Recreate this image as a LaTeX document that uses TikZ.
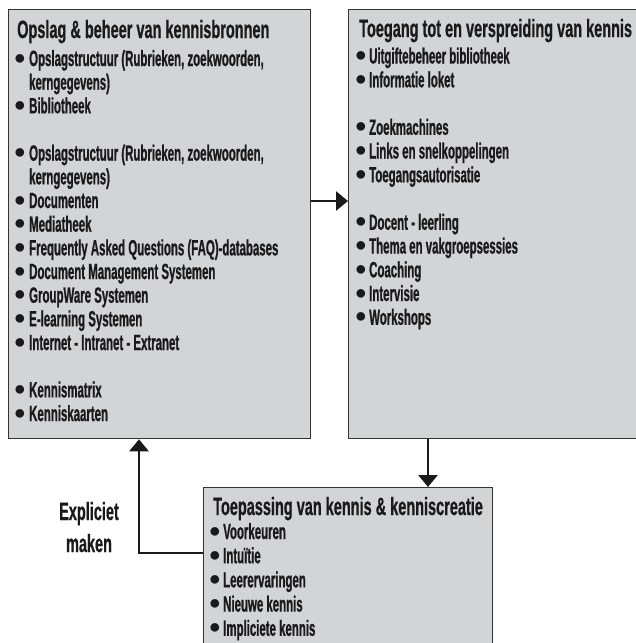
\documentclass[tikz,border=0pt]{standalone}
\usepackage{fontspec}
\setmainfont{Liberation Sans}
\newfontfamily\titlefont{Liberation Sans}[UprightFont=* Bold, FakeStretch=0.58, FakeBold=0.6]
\newfontfamily\itemfont{Liberation Sans}[UprightFont=* Bold, FakeStretch=0.52, FakeBold=0.8]
\newfontfamily\bulfont{Liberation Sans}
\usetikzlibrary{arrows.meta}
\definecolor{boxfill}{HTML}{D3D4D6}
\definecolor{boxline}{HTML}{333333}
\definecolor{ink}{HTML}{1A1A1A}
\tikzset{
  box/.style={draw=boxline, line width=1.3pt, fill=boxfill, anchor=north west, inner sep=0pt},
  ttl/.style={anchor=base west, inner sep=0pt, text=ink, font=\titlefont\fontsize{25}{25}\selectfont},
  lbl/.style={anchor=base, inner sep=0pt, text=ink, font=\titlefont\fontsize{25}{25}\selectfont},
  itm/.style={anchor=base west, inner sep=0pt, text=ink, font=\itemfont\fontsize{22}{22}\selectfont},
  bul/.style={anchor=base, inner sep=0pt, text=ink, font=\bulfont\fontsize{20}{20}\selectfont},
  arr/.style={line width=2.8pt, draw=ink, -{Triangle[length=12pt,width=19pt]}},
}
\begin{document}
\begin{tikzpicture}[x=1pt,y=-1pt]
\useasboundingbox (0,0) rectangle (636,643);
\clip (0,0) rectangle (636,643);
% boxes
\node[box, minimum width=302pt, minimum height=429pt] (L) at (8,9) {};
\node[box, minimum width=320pt, minimum height=429pt] (R) at (348,9) {};
\node[box, minimum width=289pt, minimum height=200pt] (B) at (203,487) {};
% titles
\node[ttl] (Lt) at (17,38) {Opslag \& beheer van kennisbronnen};
\node[ttl] (Rt) at (359,37) {Toegang tot en verspreiding van kennis};
\node[ttl] (Bt) at (213,515) {Toepassing van kennis \& kenniscreatie};
% left items
\foreach \n/\b/\t in {
  0/1/{Opslagstructuur (Rubrieken, zoekwoorden,},
  1/0/{kerngegevens)},
  2/1/{Bibliotheek},
  4/1/{Opslagstructuur (Rubrieken, zoekwoorden,},
  5/0/{kerngegevens)},
  6/1/{Documenten},
  7/1/{Mediatheek},
  8/1/{Frequently Asked Questions (FAQ)-databases},
  9/1/{Document Management Systemen},
  10/1/{GroupWare Systemen},
  11/1/{E-learning Systemen},
  12/1/{Internet - Intranet - Extranet},
  14/1/{Kennismatrix},
  15/1/{Kenniskaarten}}
  {
  \node[itm] (L\n) at (29,66+\n*23.67) {\t};
  \ifnum\b=1 \node[bul] (Lb\n) at (20,64+\n*23.67) {●}; \fi
  }
% right items
\foreach \n/\t in {
  0/{Uitgiftebeheer bibliotheek},
  1/{Informatie loket},
  3/{Zoekmachines},
  4/{Links en snelkoppelingen},
  5/{Toegangsautorisatie},
  7/{Docent - leerling},
  8/{Thema en vakgroepsessies},
  9/{Coaching},
  10/{Intervisie},
  11/{Workshops}}
  {
  \node[itm] (R\n) at (369,63.5+\n*23.75) {\t};
  \node[bul] (Rb\n) at (361,61.5+\n*23.75) {●};
  }
% bottom items
\foreach \n/\t in {
  0/{Voorkeuren},
  1/{Intuïtie},
  2/{Leerervaringen},
  3/{Nieuwe kennis},
  4/{Impliciete kennis}}
  {
  \node[itm] (B\n) at (223,539+\n*24.2) {\t};
  \node[bul] (Bb\n) at (215,537+\n*24.2) {●};
  }
% label
\node[lbl] (E1) at (89,520) {Expliciet};
\node[lbl] (E2) at (89,552) {maken};
% arrows
\draw[arr] (L.east |- 0,201) -- (R.west |- 0,201);
\draw[arr] (R.south -| 428,0) -- (B.north -| 428,0);
\draw[arr] (B.west |- 0,553) -| (L.south -| 139,0);
\end{tikzpicture}
\end{document}
